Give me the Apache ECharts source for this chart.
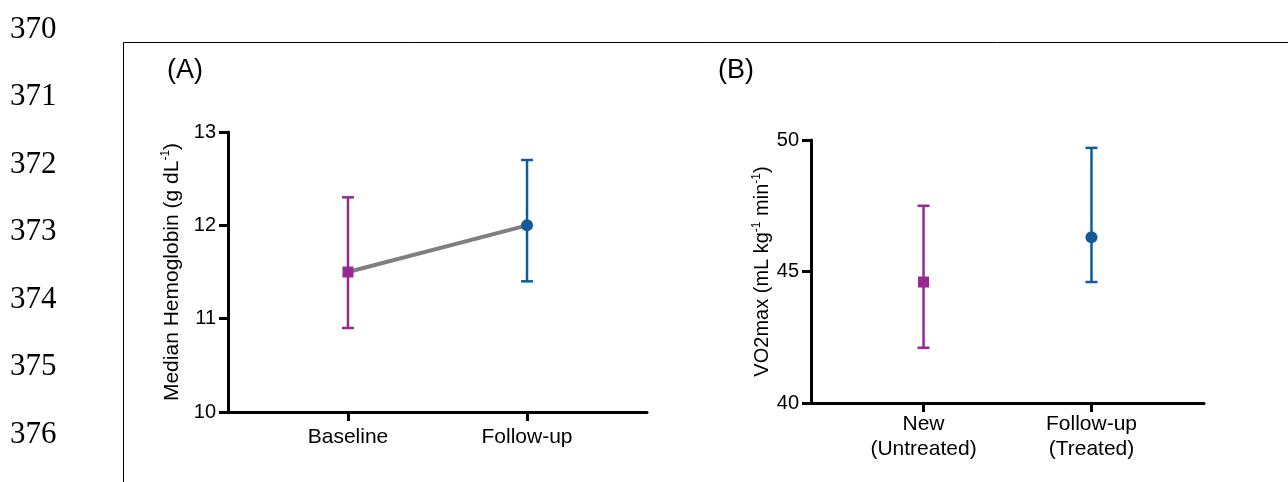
<!DOCTYPE html>
<html>
<head>
<meta charset="utf-8">
<script src="https://cdn.jsdelivr.net/npm/echarts@6/dist/echarts.min.js"></script>
<style>
  html, body { margin: 0; padding: 0; background: #fff; }
  #chart { width: 1288px; height: 482px; }
</style>
</head>
<body>
<div id="chart"></div>
<script>
// panel A: hemoglobin
const hbCategories = ['Baseline', 'Follow-up'];
const hbMedian = [11.5, 12.0];
const hbLow = [10.9, 11.4];
const hbHigh = [12.3, 12.7];

// panel B: VO2max
const voCategories = ['New\n(Untreated)', 'Follow-up\n(Treated)'];
const voMean = [44.6, 46.3];
const voLow = [42.1, 44.6];
const voHigh = [47.5, 49.7];

const lineNumbers = ['370', '371', '372', '373', '374', '375', '376'];

const groupColors = ['#952a91', '#135a97'];
const groupSymbols = ['rect', 'circle'];
const sans = 'Liberation Sans, Arial, sans-serif';

document.addEventListener('DOMContentLoaded', function () {
    const chart = echarts.init(document.getElementById('chart'));

    function errorBarItem(params, api) {
        const x = api.value(0);
        const lo = api.coord([x, api.value(1)]);
        const hi = api.coord([x, api.value(2)]);
        const style = { stroke: groupColors[api.value(3)], lineWidth: 2.5 };
        const w = 6;
        return {
            type: 'group',
            children: [
                { type: 'line', shape: { x1: lo[0], y1: lo[1], x2: hi[0], y2: hi[1] }, style: style },
                { type: 'line', shape: { x1: lo[0] - w, y1: lo[1], x2: lo[0] + w, y2: lo[1] }, style: style },
                { type: 'line', shape: { x1: hi[0] - w, y1: hi[1], x2: hi[0] + w, y2: hi[1] }, style: style }
            ]
        };
    }

    function xAxisFor(gridIndex, cats, labelOpts) {
        return {
            type: 'value', gridIndex: gridIndex, min: 0.33, max: 2.67,
            splitLine: { show: false },
            axisLine: { lineStyle: { color: '#000', width: 3 } },
            axisTick: { customValues: [1, 2], length: 9, lineStyle: { color: '#000', width: 3 } },
            axisLabel: Object.assign({
                customValues: [1, 2],
                formatter: v => cats[Math.round(v) - 1],
                color: '#000', fontSize: 21, fontFamily: sans
            }, labelOpts)
        };
    }

    function yAxisFor(gridIndex, min, max, interval, name, gap, nameSize) {
        return {
            type: 'value', gridIndex: gridIndex, min: min, max: max, interval: interval,
            splitLine: { show: false },
            axisLine: { show: true, lineStyle: { color: '#000', width: 3 } },
            axisTick: { show: true, length: 9, lineStyle: { color: '#000', width: 3 } },
            axisLabel: { color: '#000', fontSize: 20, fontFamily: sans, margin: 12 },
            name: name,
            nameLocation: 'middle',
            nameGap: gap,
            nameTextStyle: {
                color: '#000', fontFamily: sans,
                rich: {
                    a: { fontSize: nameSize, fontFamily: sans, color: '#000', lineHeight: 24 },
                    s: { fontSize: 12, fontFamily: sans, color: '#000', verticalAlign: 'top', lineHeight: 13 }
                }
            }
        };
    }

    const idx = [1, 2];
    const graphics = [
        { type: 'rect', shape: { x: 123.5, y: 42.5, width: 1300, height: 600 },
          style: { fill: 'none', stroke: '#000', lineWidth: 1 } },
        { type: 'text', left: 167, top: 57, style: { text: '(A)', font: '27px ' + sans, fill: '#000' } },
        { type: 'text', left: 718, top: 57, style: { text: '(B)', font: '27px ' + sans, fill: '#000' } }
    ];
    lineNumbers.forEach((n, i) => {
        graphics.push({
            type: 'text', left: 10, top: 14 + i * 67.5,
            style: { text: n, font: '31px Liberation Serif, Times New Roman, serif', fill: '#000' }
        });
    });

    const option = {
        animation: false,
        grid: [
            { left: 228, top: 132, width: 419, height: 280 },
            { left: 811, top: 140, width: 393, height: 263 }
        ],
        xAxis: [
            xAxisFor(0, hbCategories, { margin: 15 }),
            xAxisFor(1, voCategories, { margin: 9, lineHeight: 25 })
        ],
        yAxis: [
            yAxisFor(0, 10, 13, 1, '{a|Median Hemoglobin (g dL}{s|-1}{a|)}', 44, 21),
            yAxisFor(1, 40, 50, 5, '{a|VO2max (mL kg}{s|-1}{a| min}{s|-1}{a|)}', 36, 20)
        ],
        graphic: graphics,
        series: [
            {
                type: 'line', xAxisIndex: 0, yAxisIndex: 0, z: 2,
                data: idx.map((x, i) => [x, hbMedian[i]]),
                symbol: 'none',
                lineStyle: { color: '#7f7f7f', width: 4 }
            },
            {
                type: 'custom', xAxisIndex: 0, yAxisIndex: 0, z: 3,
                renderItem: errorBarItem,
                data: idx.map((x, i) => [x, hbLow[i], hbHigh[i], i])
            },
            {
                type: 'custom', xAxisIndex: 1, yAxisIndex: 1, z: 3,
                renderItem: errorBarItem,
                data: idx.map((x, i) => [x, voLow[i], voHigh[i], i])
            },
            {
                type: 'scatter', xAxisIndex: 0, yAxisIndex: 0, z: 4,
                data: idx.map((x, i) => ({
                    value: [x, hbMedian[i]], symbol: groupSymbols[i],
                    symbolSize: i === 0 ? 11 : 12, itemStyle: { color: groupColors[i], opacity: 1 }
                }))
            },
            {
                type: 'scatter', xAxisIndex: 1, yAxisIndex: 1, z: 4,
                data: idx.map((x, i) => ({
                    value: [x, voMean[i]], symbol: groupSymbols[i],
                    symbolSize: i === 0 ? 11 : 12, itemStyle: { color: groupColors[i], opacity: 1 }
                }))
            }
        ]
    };

    chart.setOption(option);
});
</script>
</body>
</html>
